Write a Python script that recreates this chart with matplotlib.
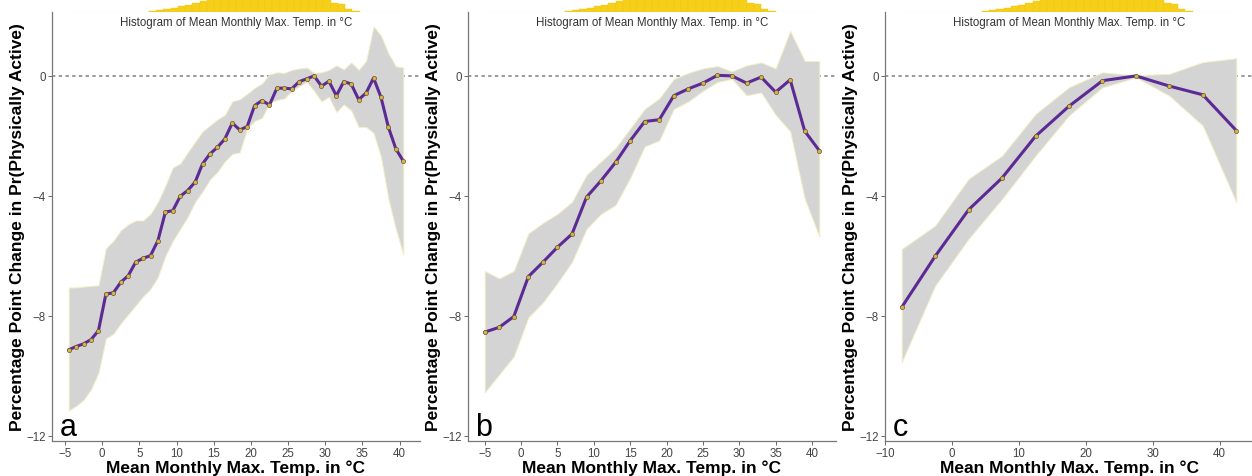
import numpy as np
import matplotlib
matplotlib.use("Agg")
import matplotlib.pyplot as plt

plt.rcParams['font.family'] = ['Liberation Sans', 'DejaVu Sans']

# panel a: 1 degree bins
xa = [-4.5, -3.5, -2.5, -1.5, -0.5, 0.5, 1.5, 2.5, 3.5, 4.5, 5.5, 6.5, 7.5,
      8.5, 9.5, 10.5, 11.5, 12.5, 13.5, 14.5, 15.5, 16.5, 17.5, 18.5, 19.5,
      20.5, 21.5, 22.5, 23.5, 24.5, 25.5, 26.5, 27.5, 28.5, 29.5, 30.5, 31.5,
      32.5, 33.5, 34.5, 35.5, 36.5, 37.5, 38.5, 39.5, 40.5]
ya = [-9.13, -9.02, -8.93, -8.79, -8.49, -7.27, -7.23, -6.88, -6.66, -6.21,
      -6.08, -5.99, -5.49, -4.54, -4.49, -4.01, -3.82, -3.54, -2.93, -2.60,
      -2.38, -2.10, -1.57, -1.80, -1.69, -0.99, -0.82, -0.97, -0.41, -0.41,
      -0.43, -0.19, -0.10, 0.00, -0.34, -0.18, -0.66, -0.19, -0.27, -0.79,
      -0.57, -0.07, -0.71, -1.71, -2.43, -2.84]
ua = [-7.05, -7.05, -7.02, -7.00, -6.98, -5.75, -5.50, -5.15, -4.95, -4.82,
      -4.82, -4.60, -4.20, -3.66, -3.05, -2.92, -2.55, -2.20, -1.85, -1.65,
      -1.45, -1.30, -0.85, -0.78, -0.60, -0.40, -0.25, 0.05, 0.12, 0.10,
      0.20, 0.25, 0.28, 0.10, 0.12, 0.20, 0.35, 0.22, 0.45, 0.20,
      0.50, 1.65, 1.35, 0.75, 0.32, 0.28]
la = [-11.15, -11.00, -10.80, -10.45, -9.90, -8.75, -8.60, -8.25, -7.95, -7.65,
      -7.35, -7.10, -6.70, -6.00, -5.50, -5.10, -4.70, -4.20, -3.85, -3.45,
      -3.20, -2.85, -2.60, -2.55, -1.75, -1.50, -1.40, -0.90, -0.80, -0.75,
      -0.50, -0.35, -0.20, -0.50, -0.85, -0.70, -1.20, -0.95, -1.15, -1.70,
      -1.70, -1.90, -2.70, -4.10, -5.10, -5.95]

# panel b: 2 degree bins
xb = [-5, -3, -1, 1, 3, 5, 7, 9, 11, 13, 15, 17, 19, 21, 23, 25, 27, 29,
      31, 33, 35, 37, 39, 41]
yb = [-8.54, -8.38, -8.02, -6.69, -6.21, -5.71, -5.27, -4.04, -3.49, -2.88,
      -2.16, -1.52, -1.46, -0.66, -0.43, -0.24, 0.02, 0.00, -0.24, -0.04,
      -0.54, -0.13, -1.84, -2.49]
ub = [-6.50, -6.75, -6.50, -5.25, -4.90, -4.60, -4.20, -3.30, -2.85, -2.40,
      -1.75, -1.10, -0.75, -0.10, 0.10, 0.25, 0.33, 0.15, 0.35, 0.45,
      0.25, 1.50, 0.50, 0.50]
lb = [-10.55, -9.95, -9.35, -8.05, -7.55, -6.90, -6.20, -5.10, -4.60, -4.30,
      -3.40, -2.35, -2.15, -1.10, -0.85, -0.50, -0.20, -0.10, -0.65, -0.55,
      -1.30, -1.85, -4.10, -5.35]

# panel c: 5 degree bins
xc = [-7.5, -2.5, 2.5, 7.5, 12.5, 17.5, 22.5, 27.5, 32.5, 37.5, 42.5]
yc = [-7.71, -6.01, -4.46, -3.40, -2.01, -1.01, -0.16, 0.00, -0.34, -0.63, -1.82]
uc = [-5.77, -4.99, -3.43, -2.66, -1.27, -0.38, 0.12, 0.02, 0.07, 0.46, 0.59]
lc = [-9.54, -6.99, -5.43, -4.10, -2.66, -1.32, -0.38, -0.05, -0.66, -1.66, -4.21]

# histogram of temperatures (top strip, clipped)
hist_x = [6.5, 7.5, 8.5, 9.5, 10.5, 11.5, 12.5, 13.5, 14.5, 15.5, 16.5, 17.5,
          18.5, 19.5, 20.5, 21.5, 22.5, 23.5, 24.5, 25.5, 26.5, 27.5, 28.5,
          29.5, 30.5, 31.5, 32.5, 33.5, 34.5]
hist_n = [0.05, 0.12, 0.2, 0.3, 0.4, 0.5, 0.62, 0.78, 0.92, 1.1, 1.4, 1.8,
          2.2, 2.6, 3.0, 3.2, 3.4, 3.5, 3.4, 3.2, 2.9, 2.6, 2.2, 1.8, 1.3,
          0.65, 0.6, 0.2, 0.05]

panels = [
    (xa, ya, ua, la, 'a', [-5, 0, 5, 10, 15, 20, 25, 30, 35, 40]),
    (xb, yb, ub, lb, 'b', [-5, 0, 5, 10, 15, 20, 25, 30, 35, 40]),
    (xc, yc, uc, lc, 'c', [-10, 0, 10, 20, 30, 40]),
]
lefts = [52, 468, 885]

W, H = 1252, 477
fig = plt.figure(figsize=(W / 100, H / 100), dpi=100)

for (x, y, up, lo, letter, xt), left in zip(panels, lefts):
    ax = fig.add_axes([left / W, 1 - 442 / H, 368 / W, 429 / H])
    pad = 0.05 * (x[-1] - x[0])
    x0, x1 = x[0] - pad, x[-1] + pad
    ax.set_xlim(x0, x1)
    ax.set_ylim(-12.17, 2.13)

    ax.axhline(0, color='#808080', lw=1.1, ls=(0, (2.2, 2.2)), zorder=1)
    ax.fill_between(x, lo, up, facecolor='#D4D4D4', edgecolor='#F3EFC4',
                    lw=0.7, zorder=2)
    ax.plot(x, y, color='#5C2A94', lw=2.2, zorder=3, solid_capstyle='round')
    ax.plot(x, y, 'o', ms=3.0, mfc='#D8B448', mec='#6a5a2a', mew=0.5, zorder=4)

    ax.set_xticks(xt)
    ax.set_yticks([0, -4, -8, -12])
    ax.tick_params(colors='#666666', labelcolor='#444444', labelsize=8.3,
                   length=3, width=0.7, pad=1.5)
    for s in ['top', 'right']:
        ax.spines[s].set_visible(False)
    for s in ['left', 'bottom']:
        ax.spines[s].set_color('#777777')
        ax.spines[s].set_linewidth(0.9)

    ax.set_xlabel('Mean Monthly Max. Temp. in °C', fontsize=12.5,
                  fontweight='bold', labelpad=0)
    ax.set_ylabel('Percentage Point Change in Pr(Physically Active)',
                  fontsize=12.5, fontweight='bold', labelpad=1)
    ax.text(0.02, 0.015, letter, transform=ax.transAxes, fontsize=22,
            ha='left', va='baseline')
    ax.text(0.5, 0.977, 'Histogram of Mean Monthly Max. Temp. in °C',
            transform=ax.transAxes, fontsize=8.3, color='#333333',
            ha='center', va='center')

    # histogram strip above the panel
    f0 = (x[0] - x0) / (x1 - x0)
    f1 = (x[-1] - x0) / (x1 - x0)
    hx = ax.inset_axes([f0, 1.0, f1 - f0, 14 / 429])
    hx.bar(hist_x, hist_n, width=1.0, color='#F5CF1A', edgecolor='#F0C814',
           lw=0.3)
    hx.axhline(0, color='#DDDDDD', lw=0.8)
    hx.set_xlim(-5, 41)
    hx.set_ylim(0, 1.0)
    hx.axis('off')

fig.savefig('out.png', dpi=100)
